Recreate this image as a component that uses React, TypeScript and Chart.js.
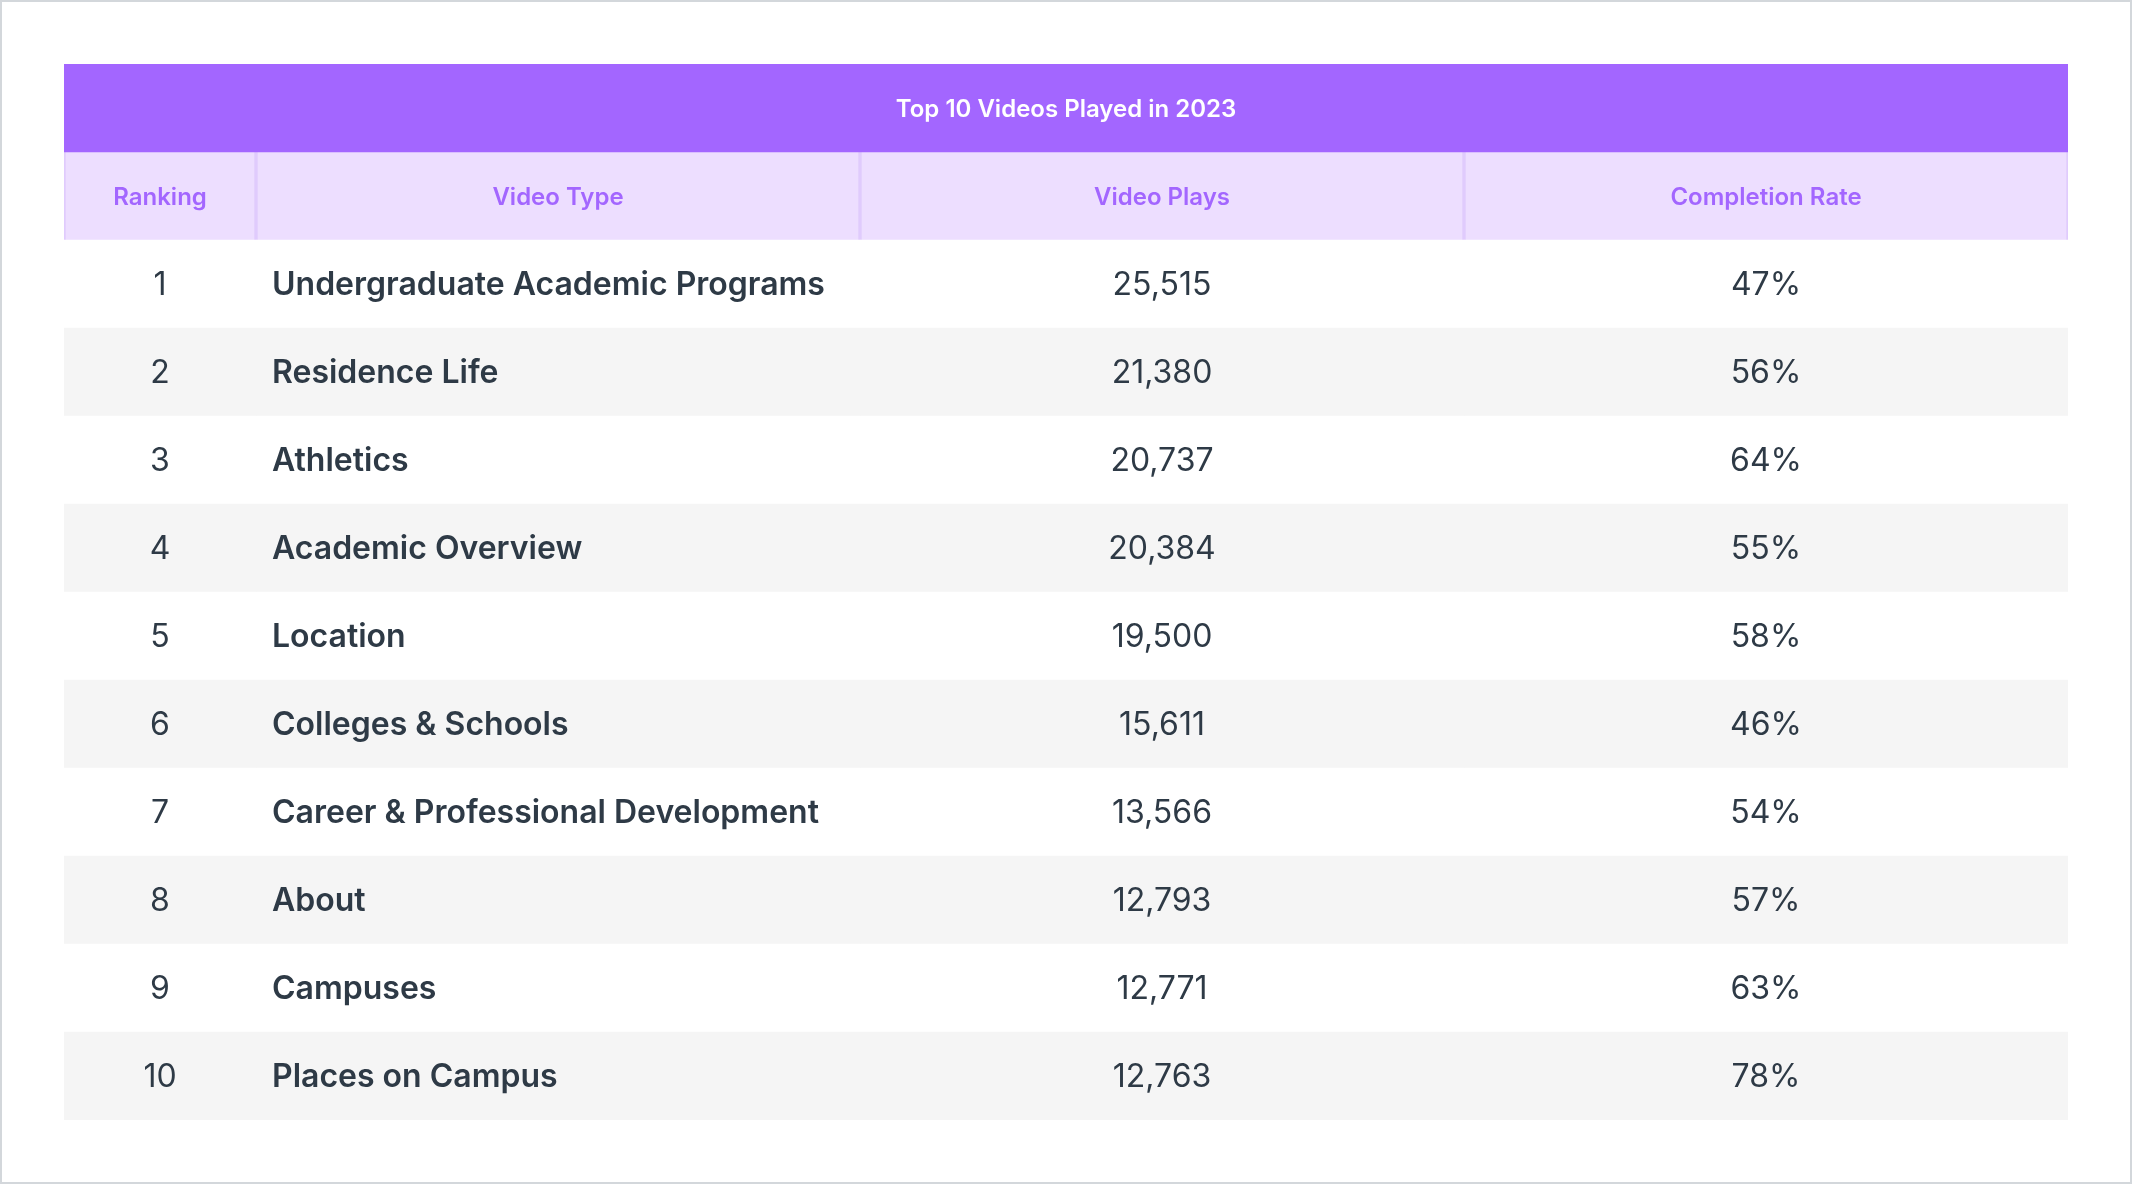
import React, { useEffect, useRef } from "react";
import { Chart, registerables } from "chart.js";

Chart.register(...registerables);

// ---- data ----
const TITLE = "Top 10 Videos Played in 2023";
const columnHeaders = ["Ranking", "Video Type", "Video Plays", "Completion Rate"];
const ranks = [1, 2, 3, 4, 5, 6, 7, 8, 9, 10];
const videoTypes = [
  "Undergraduate Academic Programs",
  "Residence Life",
  "Athletics",
  "Academic Overview",
  "Location",
  "Colleges & Schools",
  "Career & Professional Development",
  "About",
  "Campuses",
  "Places on Campus",
];
const videoPlays = [25515, 21380, 20737, 20384, 19500, 15611, 13566, 12793, 12771, 12763];
const completionRates = [47, 56, 64, 55, 58, 46, 54, 57, 63, 78];

// ---- layout / style ----
const COL_WIDTHS = [192, 604, 604, 604];
const TOTAL_W = COL_WIDTHS.reduce((a, b) => a + b, 0);
const COL_STARTS = COL_WIDTHS.map((_, j) => COL_WIDTHS.slice(0, j).reduce((a, b) => a + b, 0));
const ROW_LABELS = ["title", "header", ...ranks.map(String)];

const PURPLE = "#A366FF";
const HEADER_BG = "#EDDEFF";
const HEADER_BORDER = "#E0CBFD";
const STRIPE = "#F5F5F5";
const TEXT = "#2E3A46";
const FONT = "Inter, 'Noto Sans', sans-serif";
const DY = 1.5;

function cellText(col: number, row: number): string {
  if (col === 0) return String(ranks[row]);
  if (col === 1) return videoTypes[row];
  if (col === 2) return videoPlays[row].toLocaleString("en-US");
  return `${completionRates[row]}%`;
}

const textPlugin = {
  id: "tableText",
  afterDatasetsDraw(chart: any) {
    const ctx = chart.ctx;
    ctx.save();
    ctx.textBaseline = "middle";
    // title
    const tEl = chart.getDatasetMeta(0).data[0];
    if (tEl) {
      const left = Math.min(tEl.x, tEl.base);
      const right = Math.max(tEl.x, tEl.base);
      ctx.fillStyle = "#FFFFFF";
      ctx.font = `600 24px ${FONT}`;
      ctx.textAlign = "center";
      ctx.fillText(TITLE, (left + right) / 2, tEl.y + DY);
    }
    for (let j = 0; j < COL_WIDTHS.length; j++) {
      const meta = chart.getDatasetMeta(j + 1);
      for (let i = 1; i < ROW_LABELS.length; i++) {
        const el = meta.data[i];
        if (!el) continue;
        const left = Math.min(el.x, el.base);
        const right = Math.max(el.x, el.base);
        const cx = (left + right) / 2;
        if (i === 1) {
          ctx.fillStyle = PURPLE;
          ctx.font = `600 24px ${FONT}`;
          ctx.textAlign = "center";
          ctx.fillText(columnHeaders[j], cx, el.y + DY);
          continue;
        }
        const r = i - 2;
        ctx.fillStyle = TEXT;
        if (j === 1) {
          ctx.font = `600 32px ${FONT}`;
          ctx.textAlign = "left";
          ctx.fillText(cellText(j, r), left + 16, el.y + DY);
        } else {
          ctx.font = `400 32px ${FONT}`;
          ctx.textAlign = "center";
          ctx.fillText(cellText(j, r), cx, el.y + DY);
        }
      }
    }
    ctx.restore();
  },
};

export default function App() {
  const ref = useRef<HTMLCanvasElement | null>(null);
  useEffect(() => {
    if (!ref.current) return;
    const datasets: any[] = [
      {
        label: TITLE,
        data: ROW_LABELS.map((_, i) => (i === 0 ? [0, TOTAL_W] : null)),
        backgroundColor: PURPLE,
        borderWidth: 0,
        grouped: false,
        barPercentage: 1,
        categoryPercentage: 1,
      },
      ...COL_WIDTHS.map((w, j) => ({
        label: columnHeaders[j],
        data: ROW_LABELS.map((_, i) => (i === 0 ? null : [COL_STARTS[j], COL_STARTS[j] + w])),
        backgroundColor: (c: any) =>
          c.dataIndex === 1 ? HEADER_BG : c.dataIndex % 2 === 1 ? STRIPE : "#FFFFFF",
        borderColor: HEADER_BORDER,
        borderWidth: (c: any) =>
          c.dataIndex === 1 ? { left: 2, right: 2, top: 0, bottom: 0 } : 0,
        borderSkipped: false,
        grouped: false,
        barPercentage: 1,
        categoryPercentage: 1,
      })),
    ];
    const chart = new Chart(ref.current, {
      type: "bar",
      data: { labels: ROW_LABELS, datasets },
      options: {
        indexAxis: "y",
        animation: false,
        responsive: false,
        devicePixelRatio: 1,
        events: [],
        layout: { padding: { left: 62, right: 62, top: 62, bottom: 62 } },
        scales: {
          x: { type: "linear", min: 0, max: TOTAL_W, display: false },
          y: { type: "category", offset: true, display: false },
        },
        plugins: { legend: { display: false }, tooltip: { enabled: false } },
      },
      plugins: [textPlugin],
    } as any);
    return () => chart.destroy();
  }, []);
  return (
    <div
      style={{
        position: "absolute",
        left: 0,
        top: 0,
        width: 2132,
        height: 1184,
        boxSizing: "border-box",
        border: "2px solid #D3D7DB",
        background: "#FFFFFF",
      }}
    >
      <canvas ref={ref} width={2128} height={1180} style={{ display: "block", width: 2128, height: 1180 }} />
    </div>
  );
}
